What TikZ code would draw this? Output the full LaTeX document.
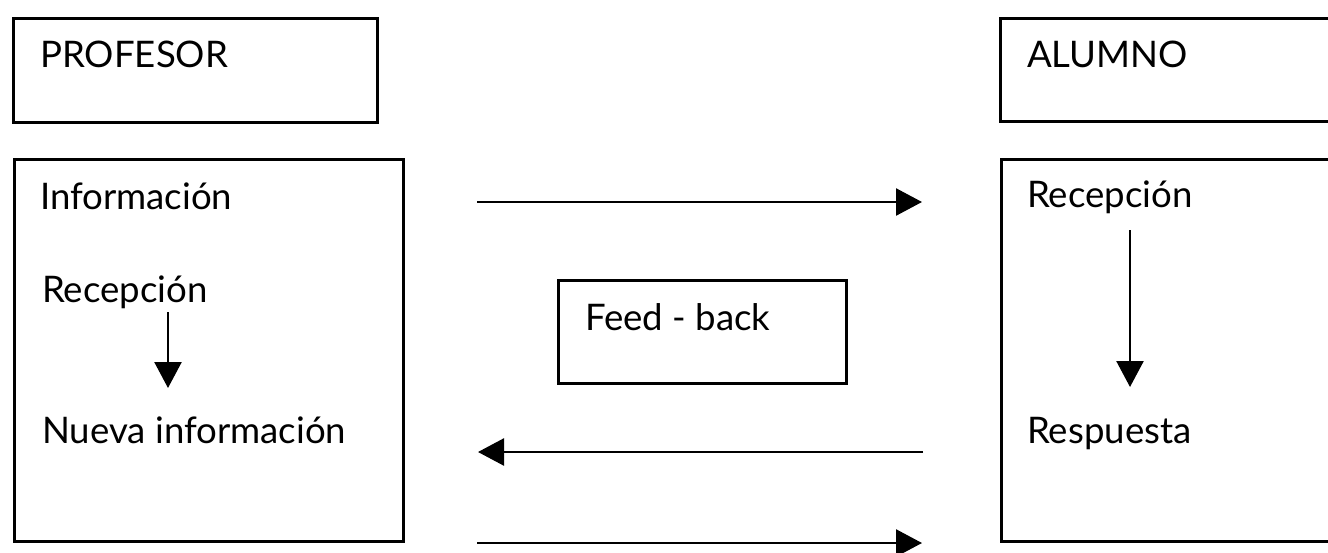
\documentclass[tikz,border=0pt]{standalone}
\usepackage{fontspec}
\setmainfont{Lato}
\usetikzlibrary{arrows.meta}
\begin{document}
\begin{tikzpicture}[x=1pt,y=-1pt,
  box/.style={draw,line width=2.8pt,inner sep=0pt,anchor=north west},
  lbl/.style={anchor=base west,inner sep=0pt,font=\fontsize{36.6}{44}\selectfont},
  flow/.style={line width=2.5pt,-{Triangle[length=26pt,width=27pt]}}]
\clip (0,0) rectangle (1328,552);
\fill[white] (0,0) rectangle (1328,552);

% boxes
\node[box,minimum width=364pt,minimum height=104pt] (prof) at (12,17) {};
\node[box,minimum width=389pt,minimum height=382pt] (profbody) at (13,158) {};
\node[box,minimum width=370pt,minimum height=103pt] (alum) at (999,17) {};
\node[box,minimum width=370pt,minimum height=382pt] (alumbody) at (1000,158) {};
\node[box,minimum width=288pt,minimum height=103pt] (feed) at (557,279) {};

% labels
\node[lbl] (tprof) at (40,67) {PROFESOR};
\node[lbl] (tinfo) at (40,209) {Información};
\node[lbl] (trecL) at (42,302) {Recepción};
\node[lbl] (tnueva) at (42,443) {Nueva información};
\node[lbl] (talum) at (1027,67) {ALUMNO};
\node[lbl] (trecR) at (1027,207) {Recepción};
\node[lbl] (tresp) at (1027,443) {Respuesta};
\node[lbl] (tfeed) at (585,330) {Feed - back};

% connector end points
\coordinate (a1s) at (168,312);  \coordinate (a1e) at (168,388);
\coordinate (a2s) at (1130,230); \coordinate (a2e) at (1130,387);
\coordinate (h1s) at (477,202);  \coordinate (h1e) at (922,202);
\coordinate (h2s) at (923,452);  \coordinate (h2e) at (478,452);
\coordinate (h3s) at (477,543);  \coordinate (h3e) at (922,543);

\draw[flow] (a1s) -- (a1e);
\draw[flow] (a2s) -- (a2e);
\draw[flow] (h1s) -- (h1e);
\draw[flow] (h2s) -- (h2e);
\draw[flow] (h3s) -- (h3e);
\end{tikzpicture}
\end{document}
